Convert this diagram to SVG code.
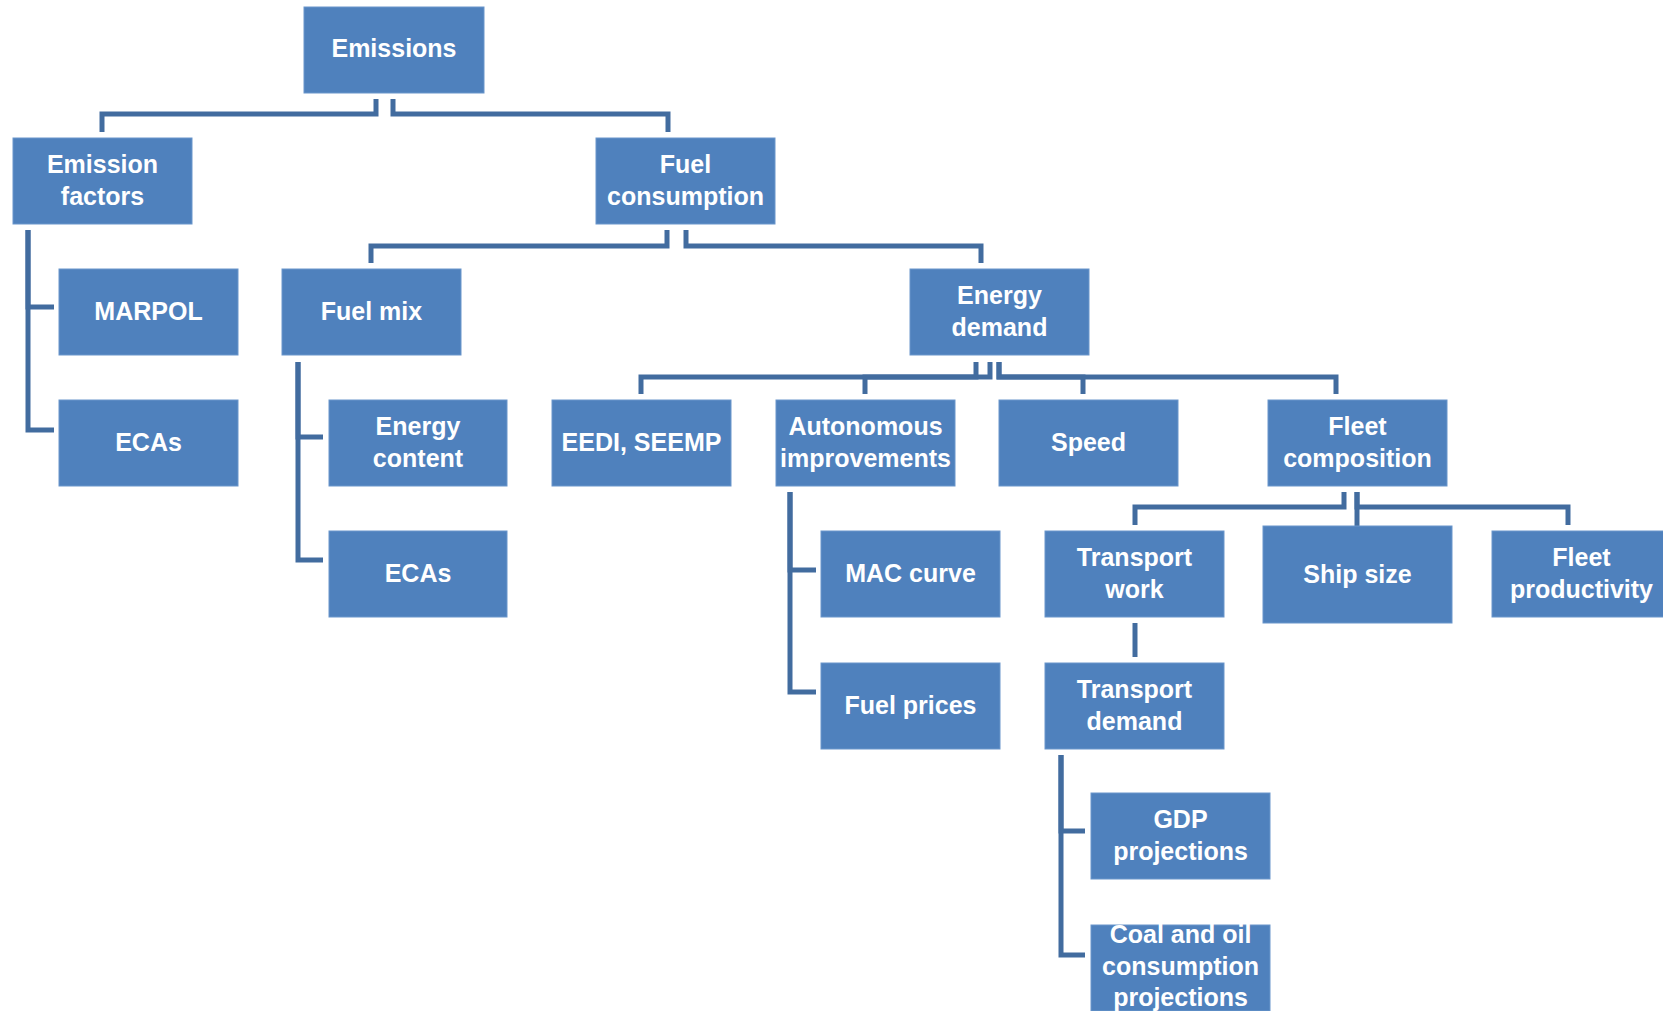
<svg xmlns="http://www.w3.org/2000/svg" width="1663" height="1011" viewBox="0 0 1663 1011">
<style>
.box{fill:#4f81bd;stroke:#6a96cb;stroke-width:1}
.t{font-family:"Liberation Sans",Arial,sans-serif;font-weight:bold;font-size:25px;fill:#ffffff;text-anchor:middle}
.c{fill:none;stroke:#426c9f;stroke-width:5;stroke-linejoin:miter}
</style>
<rect width="1663" height="1011" fill="#ffffff"/>
<g id="connectors">
<path class="c" d="M376,99 V114 H102 V132"/>
<path class="c" d="M393,99 V114 H668 V132"/>
<path class="c" d="M667,230 V246 H371 V263"/>
<path class="c" d="M686,230 V246 H981 V263"/>
<path class="c" d="M976,362 V377 H641 V394"/>
<path class="c" d="M990,362 V377 H865 V394"/>
<path class="c" d="M999,362 V377 H1083 V394"/>
<path class="c" d="M999,362 V377 H1336 V394"/>
<path class="c" d="M1344,492 V507 H1135 V525"/>
<path class="c" d="M1357,492 V526"/>
<path class="c" d="M1357,492 V507 H1568 V525"/>
<path class="c" d="M1135,623 V657"/>
<path class="c" d="M28,230 V307 H54"/>
<path class="c" d="M28,230 V430 H54"/>
<path class="c" d="M298,362 V437 H323"/>
<path class="c" d="M298,362 V560 H323"/>
<path class="c" d="M790,492 V570 H816"/>
<path class="c" d="M790,492 V692 H816"/>
<path class="c" d="M1061,755 V831 H1085"/>
<path class="c" d="M1061,755 V955 H1085"/>
</g>
<g id="emissions"><rect class="box" x="304" y="7" width="180" height="86"/><text class="t" x="394" y="57">Emissions</text></g>
<g id="emission-factors"><rect class="box" x="13" y="138" width="179" height="86"/><text class="t" x="102.5" y="173">Emission</text><text class="t" x="102.5" y="205">factors</text></g>
<g id="fuel-consumption"><rect class="box" x="596" y="138" width="179" height="86"/><text class="t" x="685.5" y="173">Fuel</text><text class="t" x="685.5" y="205">consumption</text></g>
<g id="marpol"><rect class="box" x="59" y="269" width="179" height="86"/><text class="t" x="148.5" y="320">MARPOL</text></g>
<g id="ecas-1"><rect class="box" x="59" y="400" width="179" height="86"/><text class="t" x="148.5" y="451">ECAs</text></g>
<g id="fuel-mix"><rect class="box" x="282" y="269" width="179" height="86"/><text class="t" x="371.5" y="320">Fuel mix</text></g>
<g id="energy-content"><rect class="box" x="329" y="400" width="178" height="86"/><text class="t" x="418" y="435">Energy</text><text class="t" x="418" y="467">content</text></g>
<g id="ecas-2"><rect class="box" x="329" y="531" width="178" height="86"/><text class="t" x="418" y="582">ECAs</text></g>
<g id="energy-demand"><rect class="box" x="910" y="269" width="179" height="86"/><text class="t" x="999.5" y="304">Energy</text><text class="t" x="999.5" y="336">demand</text></g>
<g id="eedi-seemp"><rect class="box" x="552" y="400" width="179" height="86"/><text class="t" x="641.5" y="451">EEDI, SEEMP</text></g>
<g id="autonomous-improvements"><rect class="box" x="776" y="400" width="179" height="86"/><text class="t" x="865.5" y="435">Autonomous</text><text class="t" x="865.5" y="467">improvements</text></g>
<g id="speed"><rect class="box" x="999" y="400" width="179" height="86"/><text class="t" x="1088.5" y="451">Speed</text></g>
<g id="fleet-composition"><rect class="box" x="1268" y="400" width="179" height="86"/><text class="t" x="1357.5" y="435">Fleet</text><text class="t" x="1357.5" y="467">composition</text></g>
<g id="mac-curve"><rect class="box" x="821" y="531" width="179" height="86"/><text class="t" x="910.5" y="582">MAC curve</text></g>
<g id="fuel-prices"><rect class="box" x="821" y="663" width="179" height="86"/><text class="t" x="910.5" y="714">Fuel prices</text></g>
<g id="transport-work"><rect class="box" x="1045" y="531" width="179" height="86"/><text class="t" x="1134.5" y="566">Transport</text><text class="t" x="1134.5" y="598">work</text></g>
<g id="ship-size"><rect class="box" x="1263" y="526" width="189" height="97"/><text class="t" x="1357.5" y="583">Ship size</text></g>
<g id="fleet-productivity"><rect class="box" x="1492" y="531" width="179" height="86"/><text class="t" x="1581.5" y="566">Fleet</text><text class="t" x="1581.5" y="598">productivity</text></g>
<g id="transport-demand"><rect class="box" x="1045" y="663" width="179" height="86"/><text class="t" x="1134.5" y="698">Transport</text><text class="t" x="1134.5" y="730">demand</text></g>
<g id="gdp-projections"><rect class="box" x="1091" y="793" width="179" height="86"/><text class="t" x="1180.5" y="828">GDP</text><text class="t" x="1180.5" y="860">projections</text></g>
<g id="coal-oil"><rect class="box" x="1091" y="925" width="179" height="86"/><text class="t" x="1180.5" y="943">Coal and oil</text><text class="t" x="1180.5" y="975">consumption</text><text class="t" x="1180.5" y="1006">projections</text></g>
</svg>
